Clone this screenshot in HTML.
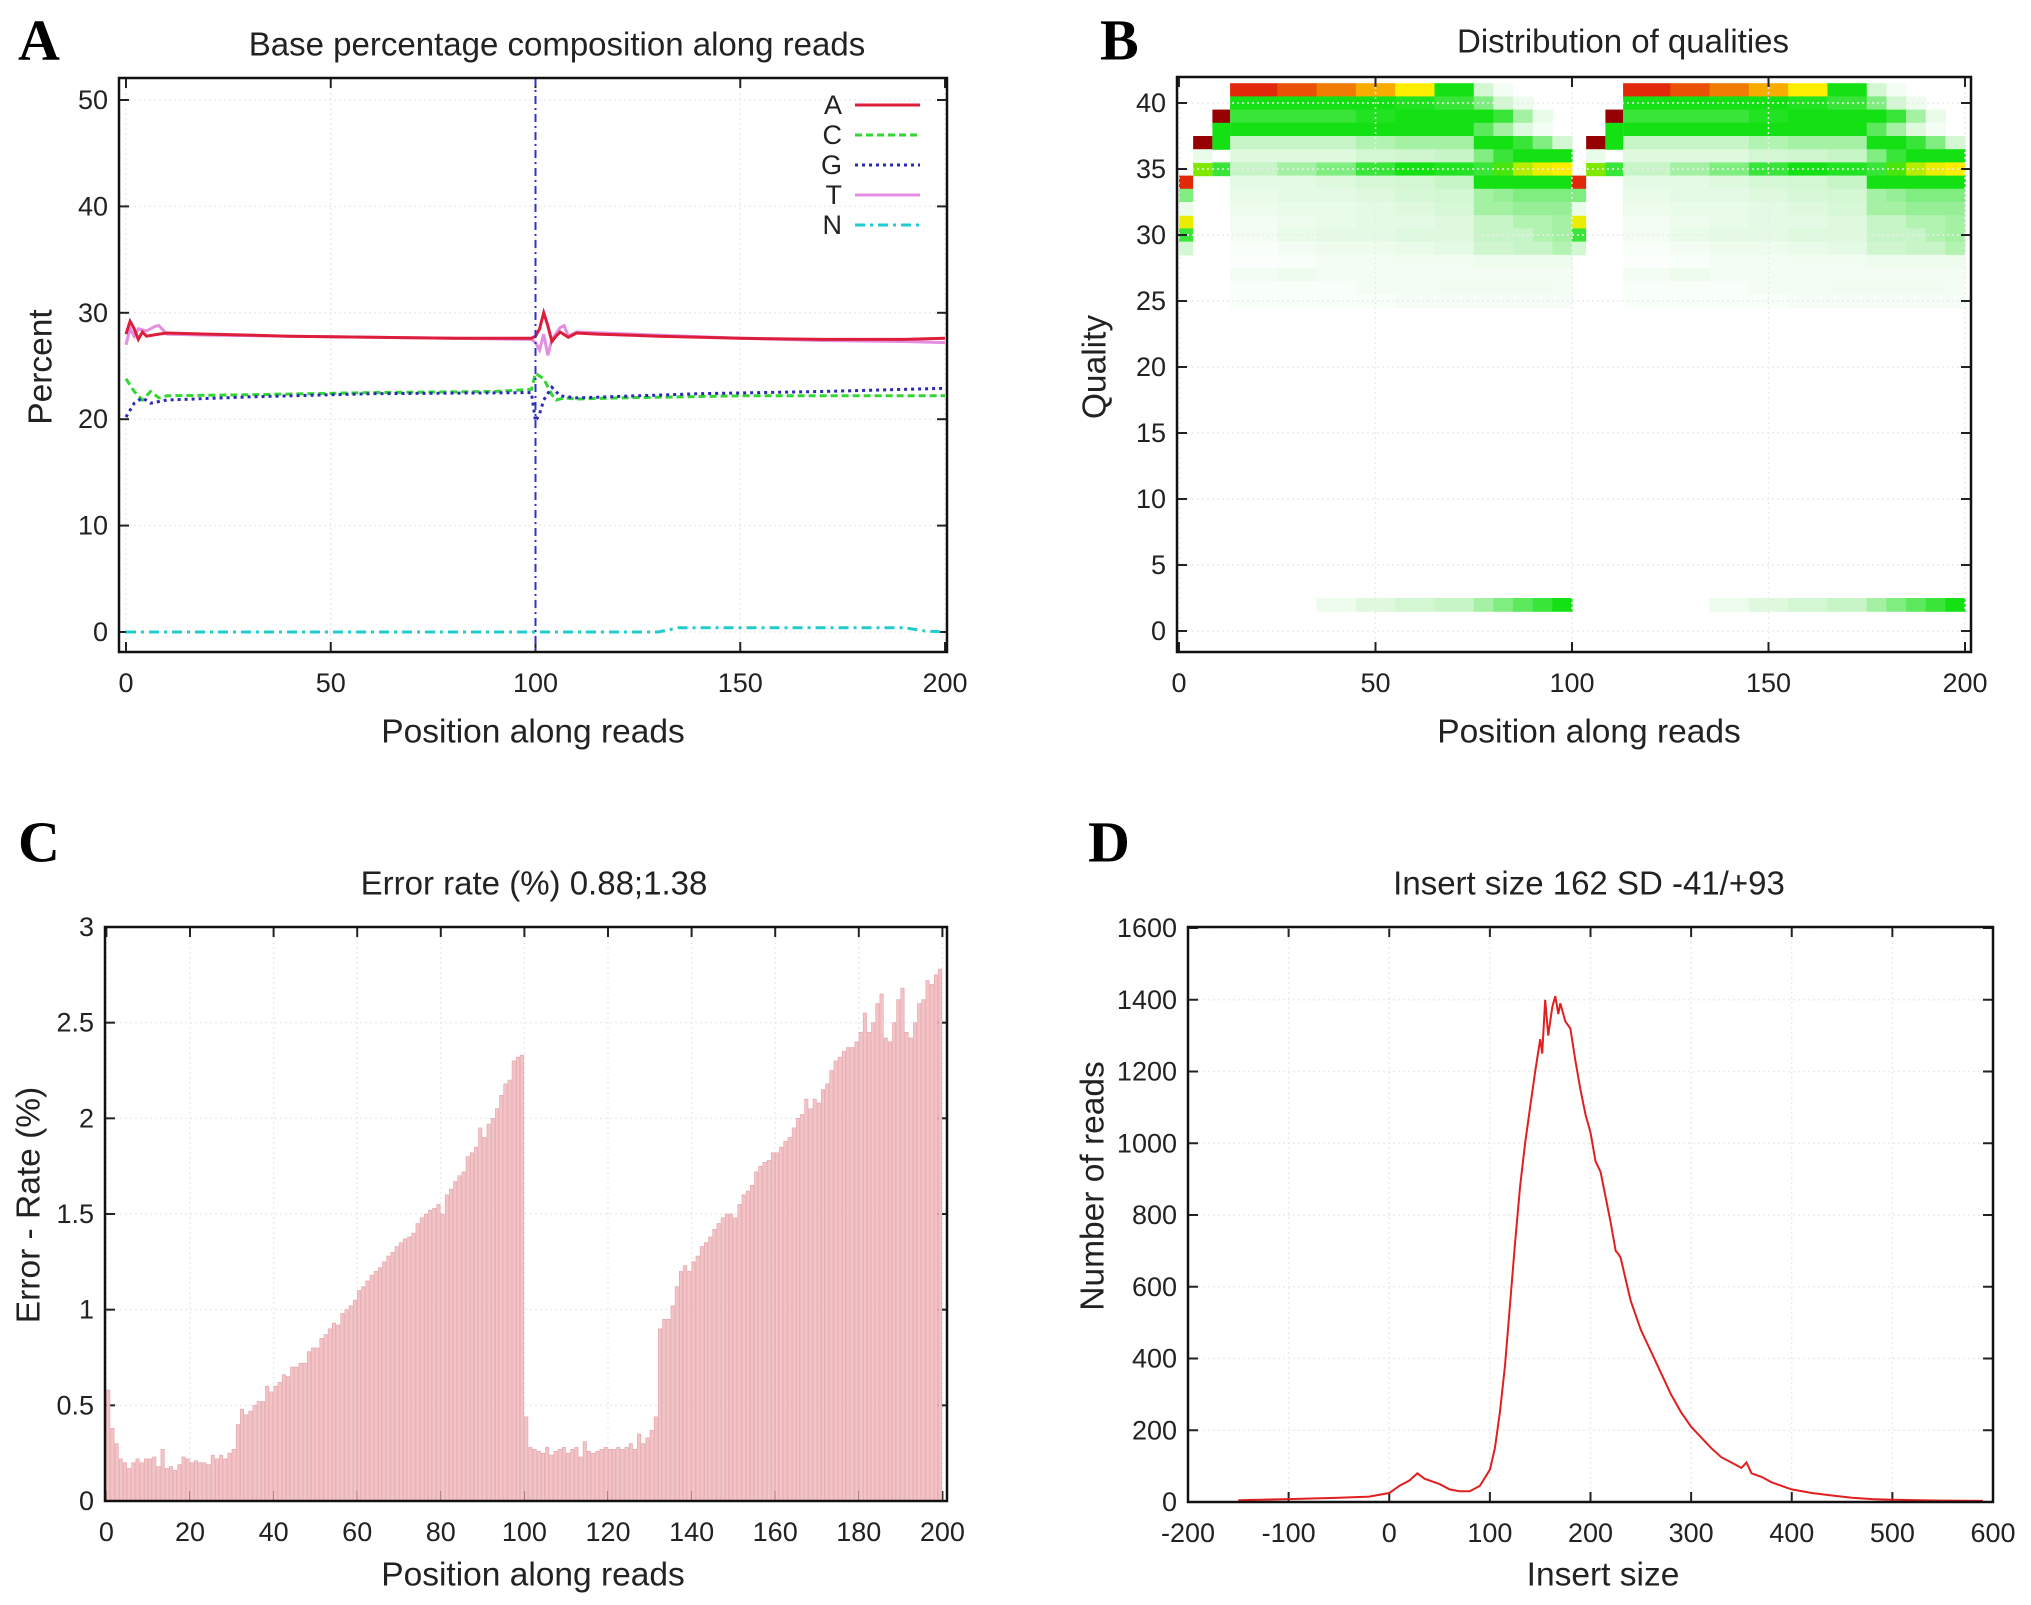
<!DOCTYPE html>
<html><head><meta charset="utf-8"><style>
html,body{margin:0;padding:0;background:#fff;}
svg{display:block;font-family:"Liberation Sans",sans-serif;}
</style></head><body>
<svg id="fig" width="2031" height="1605" viewBox="0 0 2031 1605" xmlns="http://www.w3.org/2000/svg"></svg>
<script>
// ---------- Panel A data ----------
var aPosA=[0,1,2,3,4,5,8,10,20,40,60,80,99,100,101,102,103,104,105,106,108,110,115,130,150,170,190,200];
var aValA=[28,29.2,28.5,27.5,28.2,27.8,28,28.1,28,27.8,27.7,27.6,27.6,27.8,28.5,30,28.8,27.3,27.8,28.2,27.7,28.1,28.0,27.8,27.6,27.5,27.5,27.6];
var aPosT=[0,1,2,3,5,7,8,10,20,40,60,80,99,100,101,102,103,104,106,107,108,110,130,150,170,190,200];
var aValT=[27,28.5,27.8,28.5,28.3,28.7,28.8,28,27.9,27.8,27.7,27.6,27.5,27.2,26.5,28,26,27.5,28.6,28.8,27.8,28.2,27.9,27.6,27.4,27.3,27.2];
var aPosC=[0,2,4,6,8,10,30,60,90,99,100,102,104,105,107,110,120,150,200];
var aValC=[23.8,22.6,21.8,22.6,22.0,22.2,22.3,22.5,22.6,22.8,24.3,23.8,22.3,21.8,22.0,21.9,22.0,22.2,22.2];
var aPosG=[0,2,4,6,10,30,60,99,100,101,102,104,106,110,140,170,200];
var aValG=[20.2,21.5,22.0,21.5,21.8,22.1,22.4,22.5,19.8,20.5,21.8,23,22.2,22,22.4,22.6,22.9];
var aPosN=[0,130,135,190,195,200];
var aValN=[0,0,0.4,0.4,0.1,0];
var aXTicks=[0,50,100,150,200];
var aYTicks=[0,10,20,30,40,50];

// ---------- Panel B data ----------
var bBinEdges=[13,25,35,45,55,65,75,80,85,90,95,100];
var bRows=[41,40,39,38,37,36,35,34,33,32,31,30,29,28,27,26,25,2];
var bVals=[
[0.88,0.85,0.82,0.78,0.72,0.5,0.2,0.05,0,0,0],
[0.5,0.5,0.5,0.5,0.48,0.45,0.35,0.2,0.08,0,0],
[0.45,0.45,0.45,0.48,0.5,0.5,0.5,0.45,0.3,0.1,0],
[0.5,0.5,0.5,0.5,0.5,0.5,0.4,0.3,0.15,0.05,0],
[0.25,0.25,0.25,0.28,0.3,0.3,0.5,0.5,0.45,0.35,0.2],
[0.15,0.15,0.15,0.2,0.22,0.25,0.35,0.45,0.5,0.5,0.5],
[0.25,0.3,0.35,0.45,0.5,0.48,0.45,0.55,0.65,0.7,0.72],
[0.12,0.12,0.15,0.18,0.2,0.25,0.5,0.5,0.5,0.5,0.5],
[0.1,0.12,0.12,0.15,0.18,0.2,0.3,0.32,0.35,0.35,0.35],
[0.08,0.1,0.1,0.12,0.15,0.18,0.3,0.3,0.32,0.32,0.32],
[0.05,0.08,0.1,0.12,0.12,0.15,0.25,0.25,0.28,0.28,0.3],
[0.05,0.1,0.12,0.12,0.15,0.15,0.25,0.25,0.25,0.28,0.3],
[0.03,0.05,0.08,0.08,0.1,0.12,0.22,0.22,0.25,0.25,0.28],
[0.02,0.03,0.05,0.05,0.06,0.06,0.08,0.08,0.08,0.08,0.08],
[0.05,0.08,0.05,0.05,0.05,0.05,0.05,0.05,0.05,0.05,0.05],
[0.03,0.03,0.03,0.05,0.05,0.06,0.06,0.06,0.06,0.06,0.05],
[0.03,0.03,0.03,0.03,0.04,0.04,0.04,0.04,0.04,0.04,0.04],
[0,0,0.08,0.15,0.2,0.25,0.3,0.35,0.4,0.45,0.5]];
var bEarlyStart=[0,0,0,0,0,0,3.6,3.6,3.6,8.5,8.5,8.5,8.5];
var bEarlyEnd=[3.6,3.6,3.6,3.6,3.6,3.6,8.5,8.5,8.5,13,13,13,13];
var bEarlyQ=[34,33,31,30,29,32,37,35,36,39,38,37,35];
var bEarlyV=[0.88,0.35,0.7,0.45,0.2,0.1,1.0,0.6,0.1,1.0,0.5,0.5,0.45];
var bCycles=[0,100];
var bXTicks=[0,50,100,150,200];
var bYTicks=[0,5,10,15,20,25,30,35,40];

// ---------- Panel C data ----------
var cVals=[0.58,0.38,0.3,0.22,0.2,0.17,0.2,0.22,0.2,0.22,0.22,0.23,0.18,0.27,0.17,0.18,0.16,0.19,0.23,0.22,
0.2,0.21,0.2,0.2,0.19,0.24,0.22,0.24,0.22,0.25,0.27,0.4,0.48,0.45,0.47,0.5,0.52,0.52,0.6,0.57,
0.6,0.62,0.66,0.65,0.7,0.7,0.72,0.72,0.78,0.8,0.8,0.85,0.87,0.9,0.93,0.92,0.98,1.0,1.02,1.05,
1.1,1.12,1.15,1.18,1.2,1.22,1.25,1.28,1.3,1.33,1.35,1.37,1.38,1.4,1.45,1.48,1.5,1.52,1.53,1.55,
1.5,1.6,1.63,1.67,1.7,1.72,1.8,1.82,1.85,1.95,1.9,1.97,2.0,2.05,2.12,2.18,2.2,2.3,2.32,2.33,
0.44,0.28,0.27,0.26,0.25,0.28,0.24,0.26,0.27,0.28,0.25,0.27,0.28,0.23,0.31,0.26,0.25,0.26,0.27,0.28,
0.27,0.27,0.28,0.27,0.28,0.3,0.27,0.35,0.3,0.33,0.37,0.44,0.9,0.95,0.95,1.02,1.12,1.2,1.23,1.2,
1.25,1.28,1.33,1.35,1.38,1.42,1.45,1.48,1.5,1.5,1.48,1.55,1.6,1.62,1.65,1.72,1.75,1.77,1.78,1.82,
1.82,1.85,1.88,1.9,1.95,2.0,2.02,2.1,2.05,2.1,2.08,2.15,2.18,2.25,2.3,2.32,2.35,2.37,2.37,2.4,
2.45,2.55,2.45,2.5,2.6,2.65,2.42,2.4,2.5,2.62,2.68,2.45,2.42,2.5,2.6,2.62,2.72,2.7,2.75,2.78];
var cXTicks=[0,20,40,60,80,100,120,140,160,180,200];
var cYTicks=[0,0.5,1,1.5,2,2.5,3];

// ---------- Panel D data ----------
var dX=[-150,-100,-50,-20,0,10,20,28,35,50,60,70,80,90,100,105,110,115,120,125,130,135,140,145,150,152,155,158,162,165,168,170,175,180,185,190,195,200,205,210,215,220,225,228,230,235,240,250,260,270,280,290,300,310,320,330,340,350,355,360,370,380,390,400,420,440,460,480,500,550,590];
var dY=[5,8,12,15,25,45,60,80,65,50,35,30,30,45,90,150,250,380,550,720,880,1000,1100,1200,1290,1250,1400,1300,1380,1410,1360,1390,1340,1320,1230,1150,1080,1030,950,920,850,780,700,690,680,620,560,480,420,360,300,250,210,180,150,125,110,95,110,80,70,55,45,35,25,18,12,8,6,4,3];
var dXTicks=[-200,-100,0,100,200,300,400,500,600];
var dYTicks=[0,200,400,600,800,1000,1200,1400,1600];

var NS="http://www.w3.org/2000/svg";
var svg=document.getElementById('fig');
function mk(tag,attrs,parent){var e=document.createElementNS(NS,tag);for(var k in attrs)e.setAttribute(k,attrs[k]);(parent||svg).appendChild(e);return e;}
function txt(s,x,y,size,anchor,parent,extra){var t=mk('text',{x:x,y:y,'font-size':size,'text-anchor':anchor||'middle','dominant-baseline':'central',fill:'#222'},parent);if(extra)for(var k in extra)t.setAttribute(k,extra[k]);t.textContent=s;return t;}
function lin(d0,d1,r0,r1){return function(v){return r0+(v-d0)*(r1-r0)/(d1-d0);};}

function axes(name,fr,sx,sy,xt,yt,xfmt,yfmt){
  var g=mk('g',{});
  
  
  xt.forEach(function(v){
    var x=sx(v);
    var gl=mk('line',{x1:x,y1:fr.y0,x2:x,y2:fr.y1,stroke:'#ececec','stroke-width':1.5,'stroke-dasharray':'2,3'},g);
    
    
    var t1=mk('line',{x1:x,y1:fr.y1,x2:x,y2:fr.y1-10,stroke:'#222','stroke-width':2},g);
    
    
    var t2=mk('line',{x1:x,y1:fr.y0,x2:x,y2:fr.y0+10,stroke:'#222','stroke-width':2},g);
    
    
    var l=txt(xfmt(v),x,fr.y1+31,27,'middle',g);
    
    
  });
  yt.forEach(function(v){
    var y=sy(v);
    var gl=mk('line',{x1:fr.x0,y1:y,x2:fr.x1,y2:y,stroke:'#ececec','stroke-width':1.5,'stroke-dasharray':'2,3'},g);
    
    
    var t1=mk('line',{x1:fr.x0,y1:y,x2:fr.x0+10,y2:y,stroke:'#222','stroke-width':2},g);
    
    
    var t2=mk('line',{x1:fr.x1,y1:y,x2:fr.x1-10,y2:y,stroke:'#222','stroke-width':2},g);
    
    
    var l=txt(yfmt(v),fr.x0-11,y,27,'end',g);
    
    
  });
  return g;
}
function frame(name,fr){
  var r=mk('rect',{x:fr.x0,y:fr.y0,width:fr.x1-fr.x0,height:fr.y1-fr.y0,fill:'none',stroke:'#111','stroke-width':2.5});
  
  
}
function labels(letter,lx,ly,title,tx,ty,xl,xlx,xly,yl,ylx,yly,name){
  var L=txt(letter,lx,ly,58,'start',null,{'font-family':'"Liberation Serif",serif','font-weight':'bold',fill:'#000'});
  
  
  var T=txt(title,tx,ty,33,'middle');
  
  
  var X=txt(xl,xlx,xly,33.5,'middle');
  
  
  var Y=txt(yl,0,0,33.5,'middle',null,{transform:'translate('+ylx+','+yly+') rotate(-90)'});
  
  
}
function id(v){return String(v);}

// ================= Panel A =================
(function(){
  var fr={x0:119,y0:78,x1:947,y1:652};
  var sx=lin(0,200,126,945), sy=lin(0,50,632,100);
  axes('panel-a',fr,sx,sy,aXTicks,aYTicks,id,id);
  function series(px,py,color,w,dash,name){
    var d=px.map(function(p,i){return (i?'L':'M')+sx(p).toFixed(1)+','+sy(py[i]).toFixed(1);}).join('');
    var a={d:d,fill:'none',stroke:color,'stroke-width':w};
    if(dash)a['stroke-dasharray']=dash;
    var p=mk('path',a);
    
    
  }
  series(aPosT,aValT,'#e38ee0',3,null,'series-t');
  series(aPosA,aValA,'#dd1d3c',3,null,'series-a');
  series(aPosC,aValC,'#33d633',3,'7,4','series-c');
  series(aPosG,aValG,'#2a2ab5',3,'3,4','series-g');
  series(aPosN,aValN,'#22cccc',3,'10,5,3,5','series-n');
  var vl=mk('line',{x1:sx(100),y1:fr.y0,x2:sx(100),y2:fr.y1,stroke:'#3333bb','stroke-width':2,'stroke-dasharray':'8,4,2,4'});
  
  
  var leg=[['A','#dd1d3c',null],['C','#33d633','7,4'],['G','#2a2ab5','3,4'],['T','#e38ee0',null],['N','#22cccc','10,5,3,5']];
  leg.forEach(function(e,i){
    var y=105+i*30;
    var t=txt(e[0],842,y,27,'end');
    
    
    var a={x1:855,y1:y,x2:920,y2:y,stroke:e[1],'stroke-width':3};
    if(e[2])a['stroke-dasharray']=e[2];
    var l=mk('line',a);
    
    
  });
  frame('panel-a',fr);
  labels('A',18,40,'Base percentage composition along reads',557,44,'Position along reads',533,732,'Percent',41,367,'panel-a');
})();

// ================= Panel B =================
(function(){
  var fr={x0:1177,y0:77,x1:1971,y1:652};
  var sx=lin(0,200,1179,1965), sy=lin(0,40,631,103);
  var stops=[[0,255,255,255],[0.25,200,245,200],[0.5,20,225,20],[0.62,150,235,0],[0.72,255,238,0],[0.8,245,150,0],[0.88,225,40,10],[1,150,0,0]];
  function col(v){
    for(var i=1;i<stops.length;i++){if(v<=stops[i][0]){var a=stops[i-1],b=stops[i],t=(v-a[0])/(b[0]-a[0]);
      return 'rgb('+[1,2,3].map(function(k){return Math.round(a[k]+(b[k]-a[k])*t);}).join(',')+')';}}
    return 'rgb(150,0,0)';
  }
  var g=mk('g',{});
  
  
  bCycles.forEach(function(off){
    bRows.forEach(function(q,ri){
      for(var b=0;b<bBinEdges.length-1;b++){
        var v=bVals[ri][b]; if(v<=0)continue;
        var x0=sx(off+bBinEdges[b]), x1=sx(off+bBinEdges[b+1]);
        var r=mk('rect',{x:x0,y:sy(q+0.5),width:x1-x0+0.6,height:sy(q-0.5)-sy(q+0.5)+0.6,fill:col(v)},g);
        
        
      }
    });
    bEarlyQ.forEach(function(q,i){
      var x0=sx(off+bEarlyStart[i]),x1=sx(off+bEarlyEnd[i]);
      var r=mk('rect',{x:x0,y:sy(q+0.5),width:x1-x0,height:sy(q-0.5)-sy(q+0.5)+0.6,fill:col(bEarlyV[i])},g);
      
      
    });
  });
  axes('panel-b',fr,sx,sy,bXTicks,bYTicks,id,id);
  frame('panel-b',fr);
  labels('B',1100,40,'Distribution of qualities',1623,41,'Position along reads',1589,732,'Quality',1095,367,'panel-b');
})();

// ================= Panel C =================
(function(){
  var fr={x0:105,y0:927,x1:947,y1:1501};
  var sx=lin(0,200,106.4,942.4), sy=lin(0,3,1501,927);
  axes('panel-c',fr,sx,sy,cXTicks,cYTicks,id,id);
  var g=mk('g',{});
  
  
  cVals.forEach(function(v,i){
    var x0=sx(i+0.05), x1=sx(i+0.85);
    var r=mk('rect',{x:x0,y:sy(v),width:x1-x0,height:sy(0)-sy(v),fill:'#f3c3c6',stroke:'#e0a2a8','stroke-width':0.6},g);
    
    
  });
  frame('panel-c',fr);
  labels('C',18,842,'Error rate (%) 0.88;1.38',534,883,'Position along reads',533,1575,'Error - Rate (%)',29,1205,'panel-c');
})();

// ================= Panel D =================
(function(){
  var fr={x0:1188,y0:927,x1:1993,y1:1502};
  var sx=lin(-200,600,1188,1993), sy=lin(0,1600,1502,928);
  axes('panel-d',fr,sx,sy,dXTicks,dYTicks,id,id);
  var d=dX.map(function(x,i){return (i?'L':'M')+sx(x).toFixed(1)+','+sy(dY[i]).toFixed(1);}).join('');
  var p=mk('path',{d:d,fill:'none',stroke:'#e02020','stroke-width':2});
  
  
  frame('panel-d',fr);
  labels('D',1088,842,'Insert size 162 SD -41/+93',1589,883,'Insert size',1603,1575,'Number of reads',1093,1186,'panel-d');
})();
</script>
</body></html>
